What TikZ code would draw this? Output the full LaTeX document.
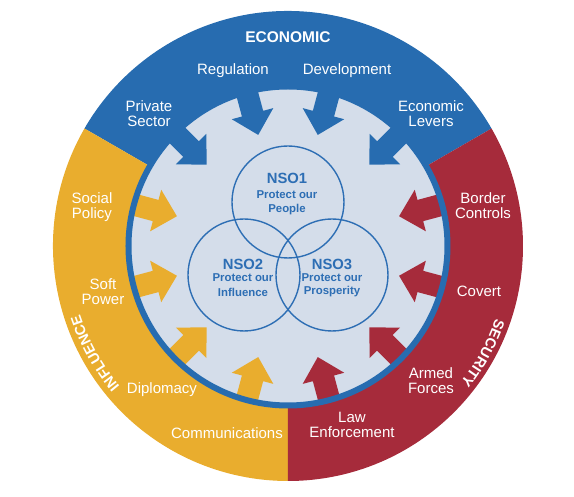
\documentclass[tikz,border=0pt]{standalone}
\usepackage{fontspec}
\setmainfont{Liberation Sans}
\usetikzlibrary{decorations.text}
\definecolor{ecoblue}{RGB}{39,108,176}
\definecolor{infyellow}{RGB}{233,173,46}
\definecolor{secred}{RGB}{166,43,59}
\definecolor{disclight}{RGB}{212,221,234}
\definecolor{nsoblue}{RGB}{45,110,180}
\begin{document}
\begin{tikzpicture}[x=1pt,y=1pt,
  lbl/.style={text=white, font=\fontsize{15}{15}\selectfont, align=center, inner sep=0pt},
  sectortitle/.style={text=white, font=\fontsize{15.5}{16}\selectfont\bfseries, inner sep=0pt},
  nsotitle/.style={text=nsoblue, font=\fontsize{14.8}{15}\selectfont\bfseries, inner sep=0pt},
  nsotext/.style={text=nsoblue, font=\fontsize{11.4}{12}\selectfont\bfseries, inner sep=0pt},
  nsocircle/.style={draw=nsoblue, line width=1.4pt},
  ]
\useasboundingbox (-288,-251) rectangle (286,246);
\def\R{235}
% sectors
\fill[ecoblue] (0,0) -- (30:\R) arc[start angle=30,end angle=150,radius=\R] -- cycle;
\fill[infyellow] (0,0) -- (150:\R) arc[start angle=150,end angle=270,radius=\R] -- cycle;
\fill[secred] (0,0) -- (270:\R) arc[start angle=270,end angle=390,radius=\R] -- cycle;
% inner disc
\fill[disclight] (0,0) circle (157);
% arrows
\foreach \a/\c in {45/ecoblue,75/ecoblue,105/ecoblue,135/ecoblue,
                   165/infyellow,195/infyellow,225/infyellow,255/infyellow,
                   285/secred,315/secred,345/secred,15/secred}{
  \fill[\c,rotate=\a] (115,0) -- (137,21.5) -- (137,11) -- (160,11) -- (160,-11) -- (137,-11) -- (137,-21.5) -- cycle;
}
% ring
\draw[ecoblue, line width=6pt] (0,0) circle (159.5);
% NSO circles
\draw[nsocircle] (0,44) circle (56);
\draw[nsocircle] (-44,-29) circle (56);
\draw[nsocircle] (44,-29) circle (56);
\node[nsotitle] (n1) at (-1,68) {NSO1};
\node[nsotext] (n1a) at (-1,51) {Protect our};
\node[nsotext] (n1b) at (-1,36) {People};
\node[nsotitle] (n2) at (-45,-18) {NSO2};
\node[nsotext] (n2a) at (-45,-32) {Protect our};
\node[nsotext] (n2b) at (-45,-46) {Influence};
\node[nsotitle] (n3) at (44,-18) {NSO3};
\node[nsotext] (n3a) at (44,-32) {Protect our};
\node[nsotext] (n3b) at (44,-46) {Prosperity};
% labels
\node[sectortitle] (eco) at (0,209) {ECONOMIC};
\node[lbl] (reg) at (-55,175) {Regulation};
\node[lbl] (dev) at (59,175) {Development};
\node[lbl] (priv) at (-139,132.5) {Private\\Sector};
\node[lbl] (lev) at (143,132.5) {Economic\\Levers};
\node[lbl] (soc) at (-196,39) {Social\\Policy};
\node[lbl] (bord) at (195,40) {Border\\Controls};
\node[lbl] (soft) at (-185,-45.5) {Soft\\Power};
\node[lbl] (cov) at (191,-45) {Covert};
\node[lbl] (dip) at (-126,-144) {Diplomacy};
\node[lbl] (comm) at (-61,-187) {Communications};
\node[lbl] (law) at (64,-179) {Law\\Enforcement};
\node[lbl] (arm) at (143,-134.5) {Armed\\Forces};
% curved sector titles
\path[decorate, decoration={text along path, text={|\fontsize{14.5}{15}\selectfont\bfseries|INFLUENCE}, text align=center, text color=white}]
  (229:219) arc[start angle=229, end angle=189, radius=219];
\path[decorate, decoration={text along path, text={|\fontsize{14.5}{15}\selectfont\bfseries|SECURITY}, text align=center, text color=white}]
  (-8.8:220) arc[start angle=-8.8, end angle=-48.8, radius=220];
\end{tikzpicture}
\end{document}
